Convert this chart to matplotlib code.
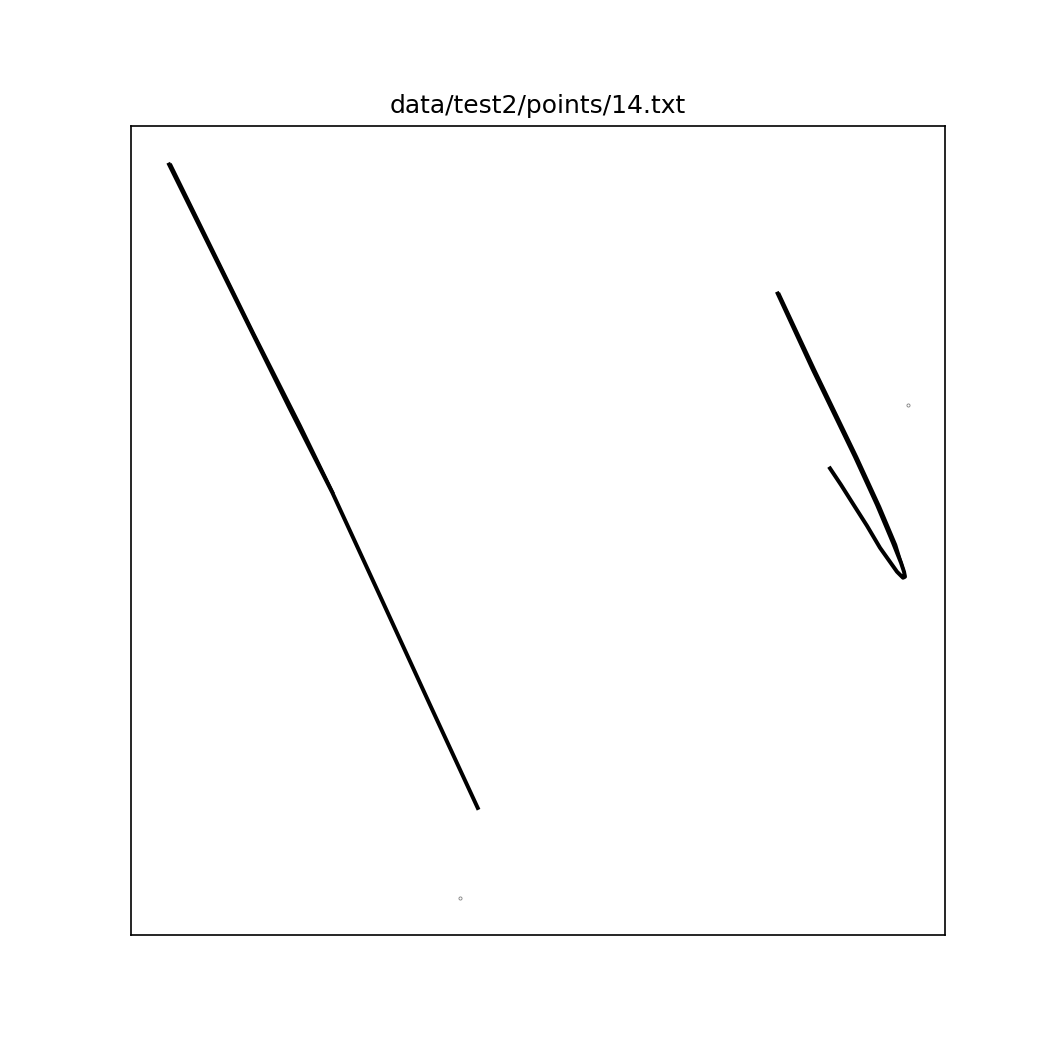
import matplotlib
matplotlib.use("Agg")
import matplotlib.pyplot as plt

# valores (y para cima)
linha_esq_x = [169, 210, 250, 290, 333, 380, 430, 479]
linha_esq_y = [887, 804, 723, 642, 557, 455, 346, 240]

linha_esq2_x = [171, 254, 301, 334]
linha_esq2_y = [886, 717, 624, 556]

curva_x = [777, 813, 855, 877, 893, 901, 904, 905, 903, 897, 880, 867, 853, 841, 829]
curva_y = [758, 680, 593, 545, 507, 487, 478, 473, 472, 478, 502, 524, 546, 565, 583]

curva2_x = [779, 815, 857, 880, 896, 903, 905]
curva2_y = [757, 680, 593, 543, 505, 482, 474]

pontos_x = [908, 460]
pontos_y = [645, 152]

fig, ax = plt.subplots(figsize=(7, 7), dpi=150)

ax.plot(linha_esq_x, linha_esq_y, color="black", lw=1.9, solid_capstyle="butt")
ax.plot(linha_esq2_x, linha_esq2_y, color="black", lw=1.5, solid_capstyle="butt")
ax.plot(curva_x, curva_y, color="black", lw=1.9, solid_capstyle="butt")
ax.plot(curva2_x, curva2_y, color="black", lw=1.2, solid_capstyle="butt")
ax.plot(pontos_x, pontos_y, "o", ms=1.5, mfc="none", mec="gray", mew=0.4)

ax.set_xticks([])
ax.set_yticks([])
ax.set_title("data/test2/points/14.txt")

plt.savefig("out.png")
